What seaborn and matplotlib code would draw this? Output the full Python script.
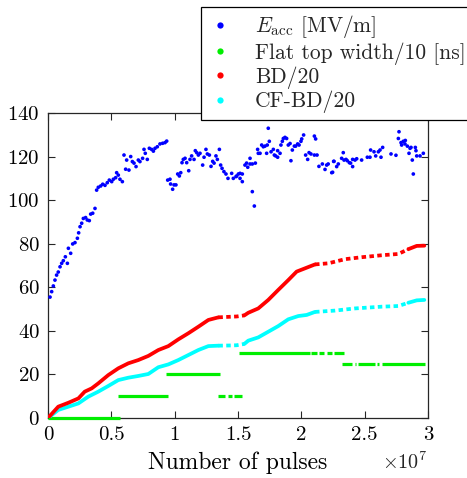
import numpy as np
import pandas as pd
import matplotlib
matplotlib.use("Agg")
import matplotlib.pyplot as plt
import seaborn as sns
from matplotlib.ticker import FuncFormatter
from matplotlib.lines import Line2D

# ---------------- data (pulses in units of 1e7) ----------------
eacc_x = [0.016, 0.029, 0.042, 0.055, 0.068, 0.081, 0.095, 0.108, 0.121, 0.137, 0.153, 0.161, 0.179, 0.195,
          0.213, 0.232, 0.242, 0.253, 0.266, 0.279, 0.297, 0.31, 0.326, 0.337, 0.353, 0.371, 0.384, 0.397,
          0.416, 0.432, 0.45, 0.468, 0.484, 0.503, 0.516, 0.534, 0.542, 0.555, 0.568, 0.587, 0.6, 0.613,
          0.621, 0.639, 0.653, 0.666, 0.679, 0.695, 0.713, 0.726, 0.747, 0.758, 0.768, 0.784, 0.8, 0.818,
          0.832, 0.845, 0.863, 0.884, 0.905, 0.924, 0.937,
          0.945, 0.963, 0.968, 0.984, 0.995, 1.01, 1.024, 1.037, 1.048, 1.058, 1.068, 1.082, 1.095, 1.111,
          1.121, 1.134, 1.153, 1.163, 1.174, 1.187, 1.2, 1.221, 1.232, 1.247, 1.258, 1.274, 1.287, 1.3,
          1.311, 1.326, 1.337, 1.353, 1.363, 1.374, 1.389, 1.405, 1.421, 1.45, 1.463, 1.484, 1.49, 1.503,
          1.516, 1.516, 1.534, 1.534, 1.555, 1.568, 1.577, 1.595, 1.595, 1.613, 1.613, 1.629, 1.637, 1.655,
          1.66, 1.674, 1.687, 1.7, 1.713, 1.726, 1.731, 1.739, 1.747, 1.761, 1.779, 1.787, 1.797, 1.813,
          1.813, 1.832, 1.839, 1.85, 1.858, 1.871, 1.884, 1.897, 1.911, 1.918, 1.929, 1.945, 1.955, 1.971,
          1.982, 1.997, 2.003, 2.018, 2.034, 2.05, 2.061, 2.076, 2.103, 2.113, 2.103, 2.124, 2.139, 2.166,
          2.187, 2.2, 2.212, 2.24, 2.255, 2.247, 2.258, 2.279, 2.292, 2.318, 2.331, 2.337, 2.353, 2.363,
          2.379, 2.389, 2.405, 2.405, 2.424, 2.437, 2.476, 2.521, 2.542, 2.547, 2.574, 2.587, 2.608, 2.621,
          2.629, 2.642, 2.708, 2.747, 2.771, 2.766, 2.787, 2.792, 2.805, 2.821, 2.818, 2.837, 2.85, 2.858,
          2.866, 2.876, 2.884, 2.9, 2.905, 2.911, 2.937, 2.963]
eacc_y = [55.5, 58, 60.6, 63.3, 65.6, 67, 69.4, 71, 72.2, 74, 71, 77.9, 75.6, 79.9,
          80.5, 82.5, 85, 87.8, 89.4, 91.6, 92, 90.9, 90.6, 93.6, 94, 96.2, 104.6, 105.9,
          106.5, 107.3, 106.8, 108, 109.2, 108.5, 109.6, 110.3, 112.6, 111.5, 109.6, 108.5, 120.7, 114.2,
          118.4, 113.8, 120, 117.7, 117, 115.4, 118.4, 117.7, 119.2, 123.3, 121.5, 118.7, 123.8, 123.3,
          122.5, 123.8, 124.5, 125.8, 126.1, 126.4, 127.1,
          109.2, 109.6, 107.4, 105, 107, 107, 112, 111.1, 112.6, 117.2, 118.7, 119.2, 117.2, 113.5,
          118.7, 120.3, 118.7, 122.7, 121.8, 120.7, 121.5, 116.1, 119.7, 123.3, 121.2, 120.7, 115.5, 117.8,
          117, 120.3, 118.7, 123.3, 116.1, 114.6, 113.1, 112, 110, 112.3, 110, 110.8, 111.1, 112,
          112.3, 110, 112, 108.5, 116.1, 117, 115.1, 119.2, 116.6, 116.6, 103.9, 97.3, 117, 123.3,
          121.5, 121.5, 125.3, 124.5, 124.8, 121.5, 125.3, 133, 127, 122.2, 123.3, 120.7, 120.3, 122.7,
          119.7, 121.5, 125.3, 127, 128.3, 128.8, 128.3, 125.3, 126, 118.1, 123, 124.8, 124.8, 125.8,
          125.3, 127, 128.1, 129.9, 120.7, 118.7, 121.8, 121.2, 129.4, 128.1, 120.7, 120.7, 115.5, 116.6,
          114.1, 116.1, 116.6, 112.6, 117.8, 112.8, 117.8, 115.4, 116.6, 119.2, 121.8, 118.4, 118.7, 118.1,
          117.2, 117, 115.4, 118.7, 118.4, 119, 118.4, 119.7, 119.7, 123, 122.2, 120.3, 122.2, 123,
          119.7, 124.2, 121.2, 120.6, 131.4, 128.3, 126.4, 125.3, 127, 127.4, 125.8, 124.8, 121.5, 123.8,
          124.2, 118.4, 112, 124.2, 122.7, 120.3, 120.3, 121.5]

bd_x = [0, 0.081, 0.161, 0.24, 0.29, 0.345, 0.397, 0.476, 0.555, 0.634, 0.713, 0.792, 0.871, 0.95,
        1.029, 1.108, 1.187, 1.266, 1.345, 1.45, 1.49, 1.55, 1.581, 1.66, 1.739, 1.818, 1.897, 1.963,
        2.029, 2.108, 2.213, 2.345, 2.476, 2.634, 2.766, 2.845, 2.911, 2.971]
bd_y = [0, 5.2, 7, 9, 12.1, 13.6, 15.9, 19.7, 22.8, 25.1, 26.6, 28.5, 31.2, 33,
        36.1, 38.9, 41.9, 45, 46.2, 46.5, 46.6, 47.1, 48.3, 50.3, 54.2, 58.8, 63.3, 67.2,
        68.7, 70.5, 71, 72.9, 73.8, 74.7, 75.3, 77.5, 79, 79.1]

cfbd_x = [0, 0.081, 0.161, 0.24, 0.318, 0.397, 0.476, 0.555, 0.634, 0.713, 0.792, 0.871, 0.95,
          1.029, 1.108, 1.187, 1.266, 1.345, 1.45, 1.49, 1.55, 1.581, 1.66, 1.739, 1.818, 1.897, 1.976,
          2.042, 2.108, 2.266, 2.424, 2.634, 2.766, 2.845, 2.911, 2.971]
cfbd_y = [0, 3.7, 5.2, 6.7, 9.8, 12.1, 14.7, 17.4, 18.5, 19.3, 20.2, 23.3, 24.6,
          26.6, 28.9, 31.2, 33, 33.2, 33.3, 33.4, 34, 35.5, 37, 39.6, 42.2, 45.3, 46.8,
          47.3, 48.7, 49.3, 50.3, 51.1, 51.4, 52.9, 54, 54.2]

# pulse ranges where only few BD records were taken (shown dotted)
sparse_start = [1.345, 2.108]
sparse_end = [1.55, 2.845]

# flat top width / 10 : constant levels over pulse ranges
flat_start = [0.0, 0.555, 0.93, 1.345, 1.42, 1.47, 1.51, 2.08, 2.14, 2.2, 2.26, 2.32, 2.42, 2.45, 2.6, 2.64]
flat_end = [0.565, 0.95, 1.36, 1.40, 1.45, 1.53, 2.07, 2.12, 2.18, 2.24, 2.34, 2.4, 2.43, 2.58, 2.61, 2.975]
flat_level = [0, 10, 20, 10, 10, 10, 30, 30, 30, 30, 30, 25, 25, 25, 25, 25]

legend_labels = [r"$E_\mathrm{acc}$ [MV/m]", "Flat top width/10 [ns]", "BD/20", "CF-BD/20"]
colors = ["#0000ff", "#00ee00", "#ff0000", "#00ffff"]

x_ticks = [0, 0.5, 1, 1.5, 2, 2.5, 3]
y_ticks = [0, 20, 40, 60, 80, 100, 120, 140]

# ---------------- style ----------------
sns.set_theme(style="ticks")
plt.rcParams["font.family"] = ["cmr10", "DejaVu Serif"]
plt.rcParams["mathtext.fontset"] = "cm"
plt.rcParams["axes.formatter.use_mathtext"] = True
plt.rcParams["axes.unicode_minus"] = False

fig = plt.figure(figsize=(4.67, 4.78), dpi=100)
ax = fig.add_axes([48 / 467, 60 / 478, 380 / 467, 305 / 478])

scale = 1e7


def draw_curve(xs, ys, color, z):
    df = pd.DataFrame({"x": np.array(xs) * scale, "y": ys})
    xv = np.array(xs)
    bounds = sorted(set([xv[0], xv[-1]] + sparse_start + sparse_end))
    for a, b in zip(bounds[:-1], bounds[1:]):
        piece = df[(xv >= a - 1e-9) & (xv <= b + 1e-9)]
        is_sparse = any(abs(a - s) < 1e-9 for s in sparse_start)
        sns.lineplot(data=piece, x="x", y="y", ax=ax, color=color, linewidth=2.7,
                     sort=False, estimator=None, zorder=z,
                     linestyle=(0, (1.2, 0.9)) if is_sparse else "-")


# green flat-top levels
ax.hlines(flat_level, np.array(flat_start) * scale, np.array(flat_end) * scale,
          colors=colors[1], linewidth=2.3, zorder=3, clip_on=False)
draw_curve(cfbd_x, cfbd_y, colors[3], 3)
draw_curve(bd_x, bd_y, colors[2], 4)
sns.scatterplot(x=np.array(eacc_x) * scale, y=eacc_y, ax=ax, color=colors[0], s=7,
                edgecolor="none", linewidth=0, zorder=5)

ax.set_xlim(0, 3e7)
ax.set_ylim(0, 140)
ax.set_xticks(np.array(x_ticks) * scale)
ax.set_yticks(y_ticks)
ax.xaxis.set_major_formatter(FuncFormatter(lambda v, p: f"{v / scale:g}"))
ax.tick_params(direction="in", top=True, right=True, length=5, width=0.8,
               labelsize=15, colors="#262626", labelcolor="black", pad=6)
for s in ax.spines.values():
    s.set_color("#262626")
    s.set_linewidth(0.9)
ax.set_xlabel("Number of pulses", fontsize=17, color="black", labelpad=5)
ax.set_ylabel("")
ax.text(1.0, -0.11, r"$\times10^{7}$", transform=ax.transAxes, ha="right", va="top",
        fontsize=14.5)

handles = [Line2D([], [], linestyle="none", marker="o", markersize=4.5,
                  markerfacecolor=c, markeredgecolor="none") for c in colors]
leg = fig.legend(handles, legend_labels, loc="upper left",
                 bbox_to_anchor=(201 / 467, 1 - 7 / 478), bbox_transform=fig.transFigure,
                 fontsize=15.5, frameon=True, fancybox=False, framealpha=1,
                 edgecolor="black", handlelength=1.2, handletextpad=1.0,
                 labelspacing=0.08, borderpad=0.3, borderaxespad=0)
leg.get_frame().set_linewidth(0.9)

fig.savefig("out.png", dpi=100)
